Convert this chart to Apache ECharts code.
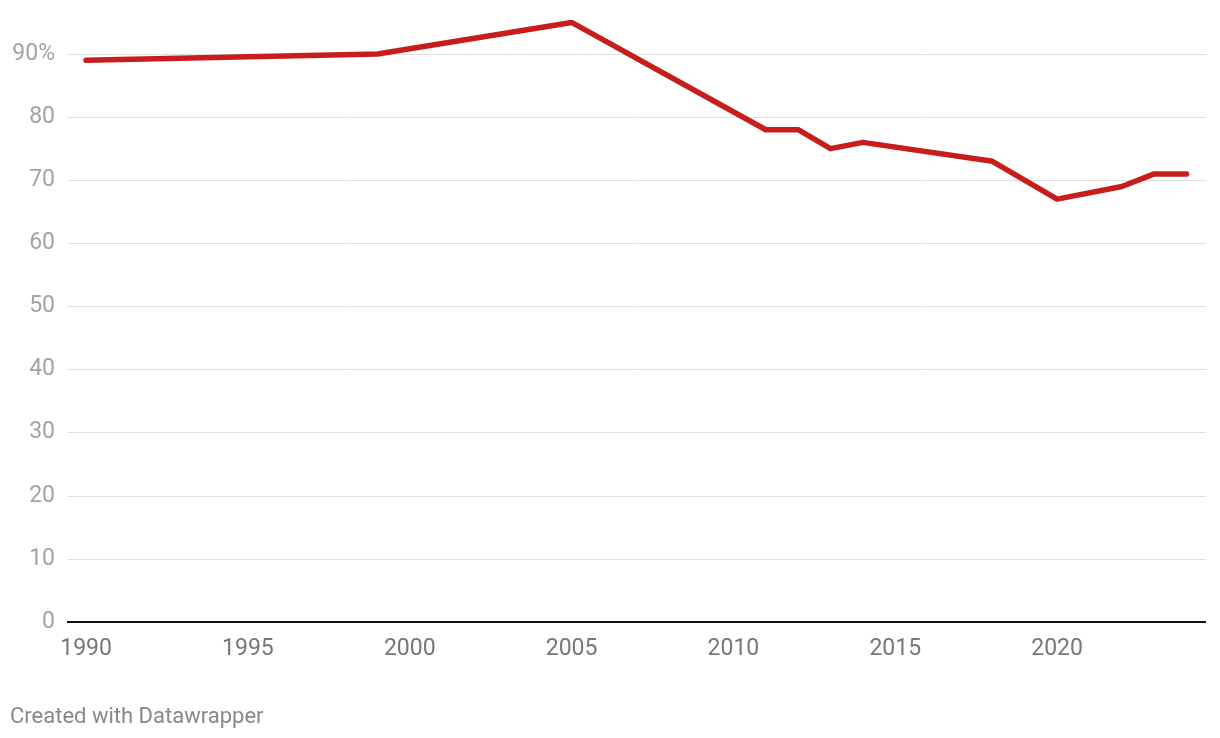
<!DOCTYPE html>
<html>
<head>
<meta charset="utf-8">
<script src="https://cdn.jsdelivr.net/npm/echarts@6/dist/echarts.min.js"></script>
<style>
html,body{margin:0;padding:0;background:#fff;}
#chart{width:1220px;height:738px;}
</style>
</head>
<body>
<div id="chart"></div>
<script>
const years = [1990, 1999, 2005, 2011, 2012, 2013, 2014, 2018, 2020, 2022, 2023, 2024];
const values = [89, 90, 95, 78, 78, 75, 76, 73, 67, 69, 71, 71];
const xTickLabels = [1990, 1995, 2000, 2005, 2010, 2015, 2020];
const yTicks = [0, 10, 20, 30, 40, 50, 60, 70, 80, 90];
const credit = 'Created with Datawrapper';

const chart = echarts.init(document.getElementById('chart'), null, {renderer: 'canvas'});
chart.setOption({
  animation: false,
  backgroundColor: '#fff',
  textStyle: {fontFamily: 'Roboto'},
  grid: {left: 67, right: 14, top: 22.45, bottom: 116, containLabel: false},
  graphic: [{
    type: 'text', left: 10, top: 706,
    style: {text: credit, fill: '#888', font: '22px Roboto'}
  }],
  xAxis: {
    type: 'value', min: 1989.41, max: 2024.6,
    axisLine: {show: false},
    axisTick: {show: false},
    splitLine: {show: false},
    axisLabel: {
      customValues: xTickLabels,
      color: '#777', fontSize: 23, margin: 16, fontFamily: 'Roboto',
      formatter: v => String(v)
    }
  },
  yAxis: {
    type: 'value', min: 0, max: 95, interval: 10,
    axisLine: {show: false},
    axisTick: {show: false},
    splitLine: {show: false},
    axisLabel: {
      customValues: yTicks,
      color: '#a3a3a3', fontSize: 23, margin: 12, fontFamily: 'Roboto',
      padding: [4, 0, 0, 0],
      formatter: v => v === 90 ? '90%' : String(v)
    }
  },
  series: [{
    type: 'line',
    data: years.map((y, i) => [y, values[i]]),
    symbol: 'none',
    z: 5,
    lineStyle: {color: '#c71e1d', width: 5.5, cap: 'round', join: 'round'},
    markLine: {
      silent: true, symbol: 'none', label: {show: false}, z: 1,
      lineStyle: {color: '#e0e0e0', width: 1, type: 'solid'},
      data: yTicks.filter(v => v > 0).map(v => ({yAxis: v}))
    }
  }, {
    type: 'line',
    data: [],
    markLine: {
      silent: true, symbol: 'none', label: {show: false},
      lineStyle: {color: '#111', width: 2, type: 'solid'},
      data: [{yAxis: 0}]
    }
  }]
});
</script>
</body>
</html>
